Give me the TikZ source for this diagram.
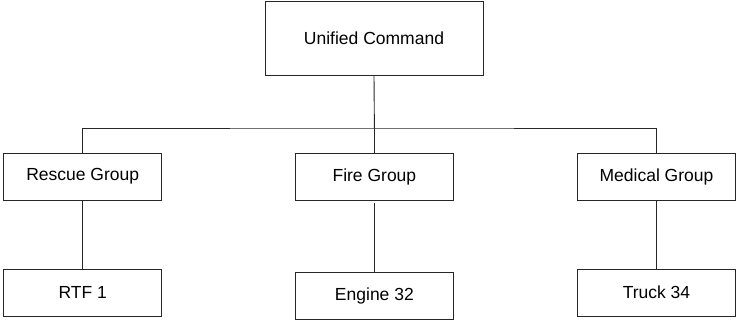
\documentclass[tikz,border=0pt]{standalone}
\usepackage{fontspec}
\setmainfont{Liberation Sans}
\begin{document}
\begin{tikzpicture}[x=1pt,y=-1pt,
  box/.style={draw=black!85, line width=0.9pt, inner sep=0pt, fill=white,
    minimum width=158pt, minimum height=47pt,
    font=\fontsize{17.5}{20}\selectfont},
  link/.style={draw=black!85, line width=0.9pt}]
\useasboundingbox (0,0) rectangle (736,320);

% top of the chart
\node[box, minimum width=218pt, minimum height=74pt] (uc) at (374,38) {Unified Command};

% groups
\node[box] (rg) at (82.7,176.5) {Rescue Group};
\node[box] (fg) at (374.4,176.5) {Fire Group};
\node[box] (mg) at (656.5,176.5) {Medical Group};

% units
\node[box] (rtf) at (82.7,292.5) {RTF 1};
\node[box] (en) at (374.4,296) {Engine 32};
\node[box] (tr) at (656.5,292.5) {Truck 34};

% branching bus
\coordinate (bus) at (374.4,128);
\draw[link] (uc.south) -- (bus);
\draw[link] (rg.north) |- (bus) -| (mg.north);
\draw[link] (fg.north) -- (fg.north |- bus);

% group to unit links
\draw[link] (rg.south) -- (rtf.north);
\draw[link] ([yshift=-3pt]fg.south) -- (en.north);
\draw[link] (mg.south) -- (tr.north);
\end{tikzpicture}
\end{document}
